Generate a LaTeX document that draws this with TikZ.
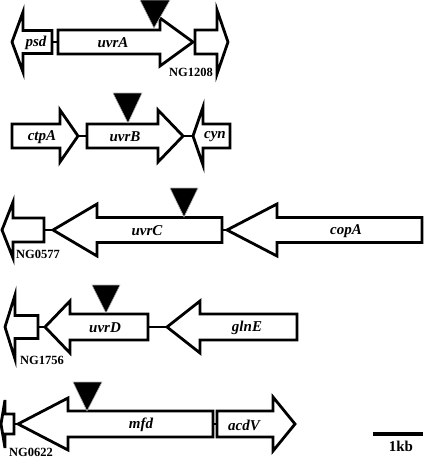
\documentclass[tikz,border=0pt]{standalone}
\usepackage{fontspec}
\setmainfont{Liberation Serif}
\begin{document}
\begin{tikzpicture}[x=1pt,y=-1pt,
  gene/.style={draw=black,fill=white,line width=2.8pt,line join=miter},
  link/.style={draw=black,line width=2.8pt},
  marker/.style={fill=black,draw=gray!60,line width=0.6pt},
  glabel/.style={font=\fontsize{15}{17}\selectfont\bfseries\itshape,inner sep=0pt},
  nglabel/.style={font=\fontsize{12.5}{14}\selectfont\bfseries,inner sep=0pt},
  kblabel/.style={font=\fontsize{15}{17}\selectfont\bfseries,inner sep=0pt},
  scalebar/.style={draw=black,line width=4pt}]
\useasboundingbox (0,0) rectangle (425,459);
% right-pointing: #1 left, #2 head base, #3 tip, #4 centre y, #5 body half, #6 head half
\def\rgene#1#2#3#4#5#6{\path[gene] (#1,#4-#5) -- (#2,#4-#5) -- (#2,#4-#6) -- (#3,#4) -- (#2,#4+#6) -- (#2,#4+#5) -- (#1,#4+#5) -- cycle;}
% left-pointing: #1 tip, #2 head base, #3 right, #4 centre y, #5 body half, #6 head half
\def\lgene#1#2#3#4#5#6{\path[gene] (#3,#4-#5) -- (#2,#4-#5) -- (#2,#4-#6) -- (#1,#4) -- (#2,#4+#6) -- (#2,#4+#5) -- (#3,#4+#5) -- cycle;}
%% Row 1
\coordinate (psdR) at (52,42); \coordinate (uvrAL) at (58,42);
\draw[link] (psdR) -- (uvrAL);
\lgene{12}{23}{52}{42}{11.5}{30}
\rgene{58}{160}{193}{42}{12}{24}
\rgene{195}{217}{228}{42}{12}{32}
\path[marker] (140,0) -- (170,0) -- (154,28) -- cycle;
\node[glabel] (psd) at (36,43) {psd};
\node[glabel] (uvrA) at (113,43) {uvrA};
\node[nglabel] (ng1208) at (191,72) {NG1208};
%% Row 2
\coordinate (ctpAT) at (78,136); \coordinate (uvrBL) at (87,136);
\coordinate (uvrBT) at (183,136); \coordinate (cynT) at (193,136);
\draw[link] (ctpAT) -- (uvrBL);
\draw[link] (uvrBT) -- (cynT);
\rgene{12}{60}{78}{136}{12}{26}
\rgene{87}{158}{183}{136}{12}{26}
\lgene{193}{203}{230}{136}{12}{29}
\path[marker] (113,93) -- (142,93) -- (128,123) -- cycle;
\node[glabel] (ctpA) at (42,137) {ctpA};
\node[glabel] (uvrB) at (125,137) {uvrB};
\node[glabel] (cyn) at (215,137) {cyn};
%% Row 3
\coordinate (ng577R) at (44,230); \coordinate (uvrCT) at (53,230);
\coordinate (uvrCR) at (222,230); \coordinate (copAT) at (227,230);
\draw[link] (ng577R) -- (uvrCT);
\draw[link] (uvrCR) -- (copAT);
\lgene{2}{13}{44}{230}{12}{28}
\lgene{53}{97}{222}{230}{12.5}{26}
\lgene{227}{277}{422}{230}{12.5}{26}
\path[marker] (170,188) -- (198,188) -- (184,217) -- cycle;
\node[glabel] (uvrC) at (147,231) {uvrC};
\node[glabel] (copA) at (346,231) {copA};
\node[nglabel] (ng0577) at (38,254) {NG0577};
%% Row 4
\coordinate (ng1756R) at (38,327); \coordinate (uvrDT) at (45,327);
\coordinate (uvrDR) at (148,327); \coordinate (glnET) at (167,327);
\draw[link] (ng1756R) -- (uvrDT);
\draw[link] (uvrDR) -- (glnET);
\lgene{5}{15}{38}{327}{11.5}{32}
\lgene{45}{70}{148}{327}{13}{26}
\lgene{167}{200}{297}{327}{13}{26}
\path[marker] (92,285) -- (120,285) -- (106,313) -- cycle;
\node[glabel] (uvrD) at (105,328) {uvrD};
\node[glabel] (glnE) at (247,328) {glnE};
\node[nglabel] (ng1756) at (42,360) {NG1756};
%% Row 5
\coordinate (mfdR) at (213,424); \coordinate (acdVL) at (217,424);
\coordinate (ng622R) at (14,424); \coordinate (mfdT) at (18,424);
\draw[link] (mfdR) -- (acdVL);
\draw[link] (ng622R) -- (mfdT);
\lgene{1}{5}{14}{424}{10}{24}
\lgene{18}{68}{213}{424}{13}{26}
\rgene{217}{273}{295}{424}{13}{27}
\path[marker] (73,382) -- (102,382) -- (87,411) -- cycle;
\node[glabel] (mfd) at (141,425) {mfd};
\node[glabel] (acdV) at (244,425) {acdV};
\node[nglabel] (ng0622) at (31,452) {NG0622};
%% scale bar
\coordinate (sbL) at (373,434); \coordinate (sbR) at (423,434);
\draw[scalebar] (sbL) -- (sbR);
\node[kblabel] (kb) at (401,446) {1kb};
\end{tikzpicture}
\end{document}
